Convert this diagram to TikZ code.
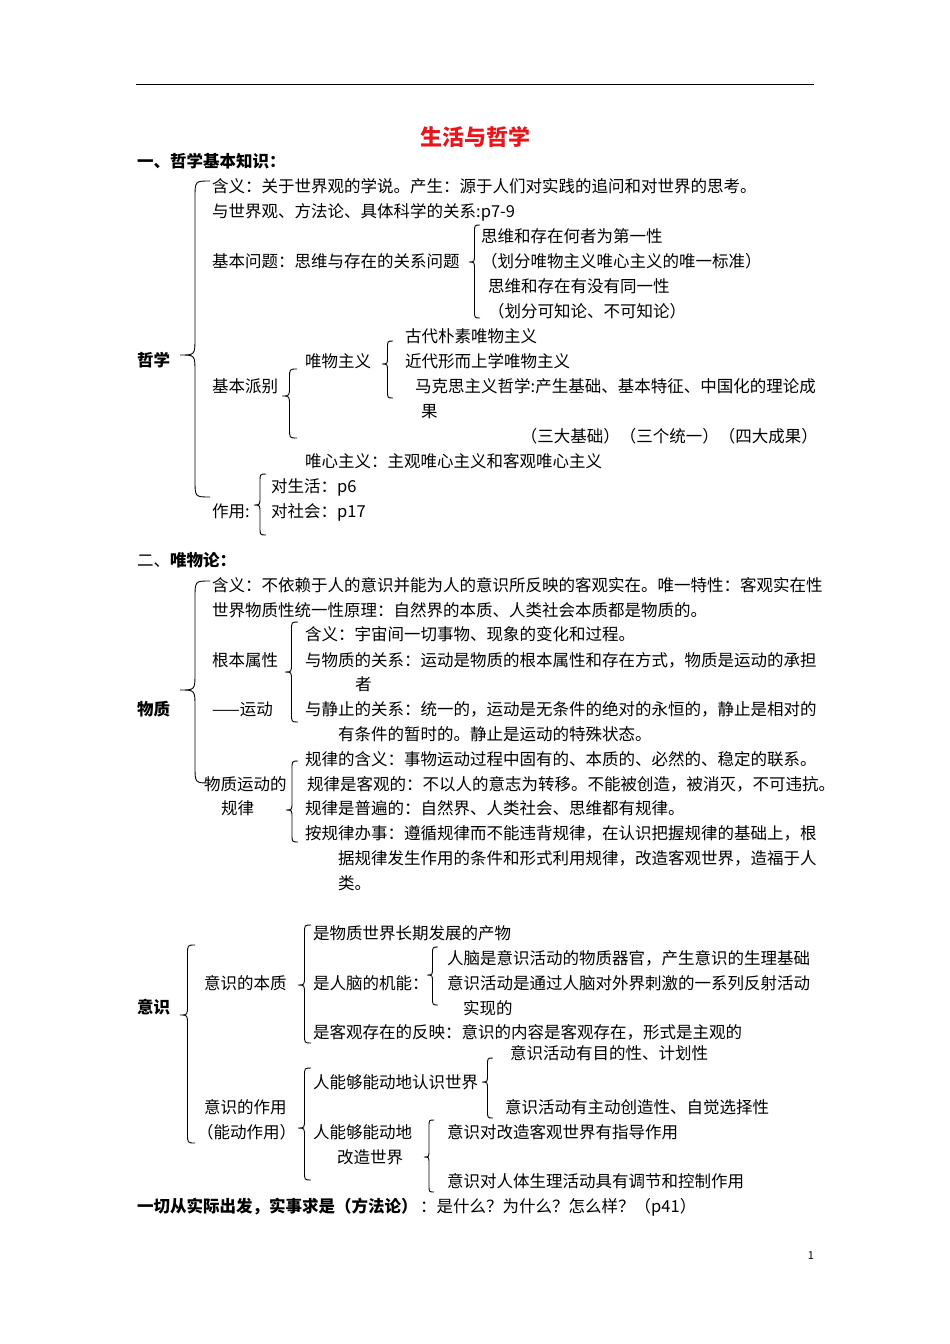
\documentclass[tikz,border=0pt]{standalone}
\usepackage{fontspec}
\setmainfont{Noto Sans CJK SC}
\definecolor{titlered}{RGB}{232,22,28}
\newcommand\fs{\fontsize{16.5}{20}\selectfont}
\newcommand\mybrace[5]{% tip x, right x, top y, tip y, bottom y
  \pgfmathsetmacro\bm{(#1+#2)/2}%
  \pgfmathsetmacro\br{(#2-#1)/2+2}%
  \draw[bracestyle] (#2,#3) .. controls (\bm,#3) .. ({\bm},{#3+\br}) -- ({\bm},{#4-\br})
    .. controls (\bm,#4) .. (#1,#4) .. controls (\bm,#4) .. ({\bm},{#4+\br})
    -- ({\bm},{#5-\br}) .. controls (\bm,#5) .. (#2,#5);}
\begin{document}
\begin{tikzpicture}[x=1pt,y=-1pt,
  txt/.style={anchor=base west,inner sep=0pt,font=\fs,yshift=-6pt},
  txte/.style={anchor=base east,inner sep=0pt,font=\fs,yshift=-6pt},
  bold/.style={txt,font=\fs\bfseries},
  bracestyle/.style={line width=0.9pt,black}]
\useasboundingbox (0,0) rectangle (950,1344);
\draw[line width=1pt] (136,84) -- (814,84);
\node[inner sep=0pt,font=\fontsize{22}{26}\selectfont\bfseries,text=titlered] (title) at (475,137) {生活与哲学};
% ---------- section 1
\node[bold] (h1) at (137,161) {一、哲学基本知识：};
\node[bold] (zx) at (137,360) {哲学};
\mybrace{180}{210}{181}{355}{497}
\node[txt] (a1) at (212,186) {含义：关于世界观的学说。产生：源于人们对实践的追问和对世界的思考。};
\node[txt] (a2) at (212,211) {与世界观、方法论、具体科学的关系:p7-9};
\node[txt] (a3) at (212,261) {基本问题：思维与存在的关系问题};
\mybrace{469}{480}{225}{262}{318}
\node[txt] (a31) at (481,236) {思维和存在何者为第一性};
\node[txt] (a32) at (481,261) {（划分唯物主义唯心主义的唯一标准）};
\node[txt] (a33) at (488,286) {思维和存在有没有同一性};
\node[txt] (a34) at (488,311) {（划分可知论、不可知论）};
\node[txt] (a4) at (212,386) {基本派别};
\mybrace{282}{297}{369}{396}{438}
\node[txt] (a41) at (305,361) {唯物主义};
\mybrace{382}{393}{341}{364}{398}
\node[txt] (a411) at (405,336) {古代朴素唯物主义};
\node[txt] (a412) at (405,361) {近代形而上学唯物主义};
\node[txt] (a413) at (415,386) {马克思主义哲学:产生基础、基本特征、中国化的理论成};
\node[txt] (a414) at (421,411) {果};
\node[txte] (a415) at (818,436) {（三大基础）（三个统一）（四大成果）};
\node[txt] (a42) at (305,461) {唯心主义：主观唯心主义和客观唯心主义};
\node[txt] (a5) at (212,511) {作用:};
\mybrace{254}{266}{474}{505}{535}
\node[txt] (a51) at (271,486) {对生活：p6};
\node[txt] (a52) at (271,511) {对社会：p17};
% ---------- section 2
\node[txt] (h2) at (137,560) {二、\textbf{唯物论：}};
\node[bold] (wz) at (137,709) {物质};
\mybrace{180}{210}{581}{690}{783}
\node[txt] (b1) at (212,585) {含义：不依赖于人的意识并能为人的意识所反映的客观实在。唯一特性：客观实在性};
\node[txt] (b2) at (212,610) {世界物质性统一性原理：自然界的本质、人类社会本质都是物质的。};
\node[txt] (b3) at (212,660) {根本属性};
\node[txt] (b3b) at (212,709) {——运动};
\mybrace{285}{298}{622}{672}{722}
\node[txt] (b31) at (305,634) {含义：宇宙间一切事物、现象的变化和过程。};
\node[txt] (b32) at (305,660) {与物质的关系：运动是物质的根本属性和存在方式，物质是运动的承担};
\node[txt] (b32b) at (355,684) {者};
\node[txt] (b33) at (305,709) {与静止的关系：统一的，运动是无条件的绝对的永恒的，静止是相对的};
\node[txt] (b33b) at (338,734) {有条件的暂时的。静止是运动的特殊状态。};
\node[txt] (b4) at (204,784) {物质运动的};
\node[txt] (b4b) at (221,808) {规律};
\mybrace{286}{298}{761}{810}{842}
\node[txt] (b41) at (305,759) {规律的含义：事物运动过程中固有的、本质的、必然的、稳定的联系。};
\node[txt] (b42) at (307,784) {规律是客观的：不以人的意志为转移。不能被创造，被消灭，不可违抗。};
\node[txt] (b43) at (305,808) {规律是普遍的：自然界、人类社会、思维都有规律。};
\node[txt] (b44) at (305,833) {按规律办事：遵循规律而不能违背规律，在认识把握规律的基础上，根};
\node[txt] (b44b) at (338,858) {据规律发生作用的条件和形式利用规律，改造客观世界，造福于人};
\node[txt] (b44c) at (338,883) {类。};
% ---------- section 3
\node[bold] (ys) at (137,1007) {意识};
\mybrace{180}{195}{945}{1015}{1143}
\node[txt] (c1) at (204,983) {意识的本质};
\mybrace{298}{311}{925}{985}{1043}
\node[txt] (c11) at (313,933) {是物质世界长期发展的产物};
\node[txt] (c12) at (313,983) {是人脑的机能：};
\mybrace{427}{438}{947}{975}{1005}
\node[txt] (c121) at (447,958) {人脑是意识活动的物质器官，产生意识的生理基础};
\node[txt] (c122) at (447,983) {意识活动是通过人脑对外界刺激的一系列反射活动};
\node[txt] (c122b) at (463,1008) {实现的};
\node[txt] (c13) at (313,1032) {是客观存在的反映：意识的内容是客观存在，形式是主观的};
\node[txt] (c2) at (204,1107) {意识的作用};
\node[txt] (c2b) at (197,1132) {（能动作用）};
\mybrace{298}{311}{1068}{1128}{1180}
\node[txt] (c21) at (313,1082) {人能够能动地认识世界};
\mybrace{482}{493}{1058}{1082}{1118}
\node[txt] (c211) at (510,1053) {意识活动有目的性、计划性};
\node[txt] (c212) at (505,1107) {意识活动有主动创造性、自觉选择性};
\node[txt] (c22) at (313,1132) {人能够能动地};
\node[txt] (c22b) at (337,1157) {改造世界};
\mybrace{424}{434}{1120}{1157}{1192}
\node[txt] (c221) at (447,1132) {意识对改造客观世界有指导作用};
\node[txt] (c222) at (447,1181) {意识对人体生理活动具有调节和控制作用};
\node[bold] (d1) at (137,1206) {一切从实际出发，实事求是（方法论）};
\node[txt] (d2) at (420,1206) {：是什么？为什么？怎么样？（p41）};
\node[inner sep=0pt,font=\fontsize{11}{13}\selectfont] (pg) at (811,1256) {1};
\end{tikzpicture}
\end{document}
